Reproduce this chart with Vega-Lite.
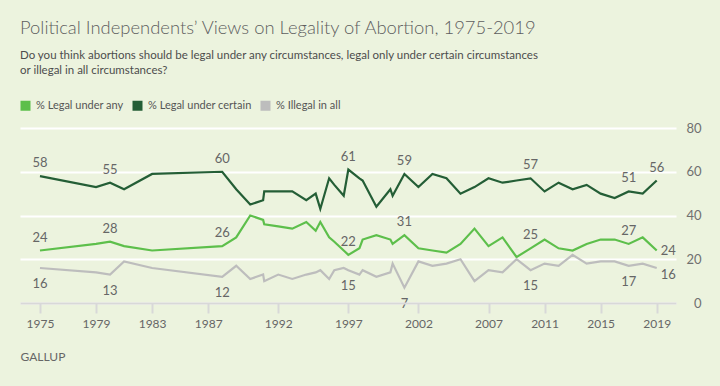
{
  "$schema": "https://vega.github.io/schema/vega-lite/v6.json",
  "autosize": "none",
  "width": 656,
  "height": 175,
  "padding": {"left": 20, "top": 128, "right": 44, "bottom": 83},
  "background": "#ecf3de",
  "config": {
    "font": "Lato, sans-serif",
    "view": {"stroke": null}
  },
  "title": {
    "text": "Political Independents’ Views on Legality of Abortion, 1975-2019",
    "subtitle": ["Do you think abortions should be legal under any circumstances, legal only under certain circumstances", "or illegal in all circumstances?"],
    "anchor": "start",
    "frame": "group",
    "offset": 23.5,
    "fontSize": 18.4,
    "fontWeight": 300,
    "color": "#5e5e5e",
    "subtitleFontSize": 11.5,
    "subtitleColor": "#4d4d4d",
    "subtitleLineHeight": 15.3,
    "subtitlePadding": 12
  },
  "data": {
    "values": [
      {"t": 1975, "any": 24, "certain": 58, "illegal": 16, "lab": true},
      {"t": 1979, "any": 27, "certain": 53, "illegal": 14, "lab": false},
      {"t": 1980, "any": 28, "certain": 55, "illegal": 13, "lab": true},
      {"t": 1981, "any": 26, "certain": 52, "illegal": 19, "lab": false},
      {"t": 1983, "any": 24, "certain": 59, "illegal": 16, "lab": false},
      {"t": 1988, "any": 26, "certain": 60, "illegal": 12, "lab": true},
      {"t": 1989, "any": 30, "certain": 52, "illegal": 17, "lab": false},
      {"t": 1990, "any": 40, "certain": 45, "illegal": 11, "lab": false},
      {"t": 1990.92, "any": 38, "certain": 47, "illegal": 13, "lab": false},
      {"t": 1991, "any": 36, "certain": 51, "illegal": 10, "lab": false},
      {"t": 1992, "any": 35, "certain": 51, "illegal": 13, "lab": false},
      {"t": 1993, "any": 34, "certain": 51, "illegal": 11, "lab": false},
      {"t": 1994, "any": 37, "certain": 47, "illegal": 13, "lab": false},
      {"t": 1994.67, "any": 33, "certain": 50, "illegal": 14, "lab": false},
      {"t": 1995, "any": 37, "certain": 43, "illegal": 15, "lab": false},
      {"t": 1995.63, "any": 30, "certain": 57, "illegal": 11, "lab": false},
      {"t": 1996, "any": 28, "certain": 54, "illegal": 15, "lab": false},
      {"t": 1996.67, "any": 24, "certain": 49, "illegal": 16, "lab": false},
      {"t": 1997, "any": 22, "certain": 61, "illegal": 15, "lab": true},
      {"t": 1997.79, "any": 25, "certain": 57, "illegal": 13, "lab": false},
      {"t": 1998.02, "any": 29, "certain": 56, "illegal": 15, "lab": false},
      {"t": 1999, "any": 31, "certain": 44, "illegal": 12, "lab": false},
      {"t": 2000, "any": 29, "certain": 52, "illegal": 14, "lab": false},
      {"t": 2000.16, "any": 27, "certain": 49, "illegal": 18, "lab": false},
      {"t": 2001, "any": 31, "certain": 59, "illegal": 7, "lab": true},
      {"t": 2002, "any": 25, "certain": 53, "illegal": 19, "lab": false},
      {"t": 2003, "any": 24, "certain": 59, "illegal": 17, "lab": false},
      {"t": 2004, "any": 23, "certain": 57, "illegal": 18, "lab": false},
      {"t": 2005, "any": 27, "certain": 50, "illegal": 20, "lab": false},
      {"t": 2006, "any": 34, "certain": 53, "illegal": 10, "lab": false},
      {"t": 2007, "any": 26, "certain": 57, "illegal": 15, "lab": false},
      {"t": 2008, "any": 30, "certain": 55, "illegal": 14, "lab": false},
      {"t": 2009, "any": 21, "certain": 56, "illegal": 20, "lab": false},
      {"t": 2010, "any": 25, "certain": 57, "illegal": 15, "lab": true},
      {"t": 2011, "any": 29, "certain": 51, "illegal": 18, "lab": false},
      {"t": 2012, "any": 25, "certain": 55, "illegal": 17, "lab": false},
      {"t": 2013, "any": 24, "certain": 52, "illegal": 22, "lab": false},
      {"t": 2014, "any": 27, "certain": 54, "illegal": 18, "lab": false},
      {"t": 2015, "any": 29, "certain": 50, "illegal": 19, "lab": false},
      {"t": 2016, "any": 29, "certain": 48, "illegal": 19, "lab": false},
      {"t": 2017, "any": 27, "certain": 51, "illegal": 17, "lab": true},
      {"t": 2018, "any": 30, "certain": 50, "illegal": 18, "lab": false},
      {"t": 2019, "any": 24, "certain": 56, "illegal": 16, "lab": true}
    ]
  },
  "transform": [
    {"fold": ["any", "certain", "illegal"], "as": ["series", "v"]}
  ],
  "encoding": {
    "x": {
      "field": "t",
      "type": "quantitative",
      "scale": {"domain": [1973.575, 2020.376], "nice": false, "zero": false},
      "axis": {
        "values": [1975, 1979, 1983, 1987, 1992, 1997, 2002, 2007, 2011, 2015, 2019],
        "format": "d",
        "grid": false,
        "domainColor": "#d8d8d8",
        "domainWidth": 2,
        "tickColor": "#d8d8d8",
        "tickWidth": 2,
        "tickSize": 10,
        "labelPadding": 5,
        "labelFontSize": 12,
        "labelColor": "#666666",
        "title": "GALLUP",
        "titleAnchor": "start",
        "titleAlign": "left",
        "titleX": 0,
        "titleY": 53,
        "titleBaseline": "middle",
        "titleFontSize": 12,
        "titleFontWeight": "normal",
        "titleColor": "#666666",
        "zindex": 1
      }
    },
    "y": {
      "field": "v",
      "type": "quantitative",
      "scale": {"domain": [0, 80], "nice": false},
      "axis": {
        "orient": "right",
        "values": [0, 20, 40, 60, 80],
        "domain": false,
        "ticks": false,
        "tickSize": 0,
        "labelAlign": "right",
        "labelPadding": 25,
        "labelFontSize": 13,
        "labelColor": "#707070",
        "gridColor": "#ffffff",
        "gridWidth": 2,
        "gridOpacity": 1,
        "title": null
      }
    }
  },
  "layer": [
    {
      "mark": {"type": "line", "strokeWidth": 2.2},
      "encoding": {
        "color": {
          "field": "series",
          "type": "nominal",
          "scale": {"domain": ["any", "certain", "illegal"], "range": ["#5dbf4b", "#245e36", "#bdbdbd"]},
          "legend": {
            "orient": "none",
            "legendX": 0,
            "legendY": -28,
            "direction": "horizontal",
            "columns": 3,
            "columnPadding": 8,
            "title": null,
            "symbolType": "square",
            "symbolSize": 100,
            "symbolOpacity": 1,
            "labelOffset": 5,
            "labelFontSize": 11,
            "labelColor": "#555555",
            "labelExpr": "datum.value == 'any' ? '% Legal under any' : datum.value == 'certain' ? '% Legal under certain' : '% Illegal in all'",
            "encode": {
              "symbols": {
                "update": {
                  "fill": {"scale": "color", "field": "value"},
                  "strokeWidth": {"value": 0}
                }
              }
            }
          }
        }
      }
    },
    {
      "transform": [{"filter": "datum.lab && (datum.series == 'certain' || (datum.series == 'any' && datum.t != 2019))"}],
      "mark": {"type": "text", "dy": -13, "fontSize": 13, "color": "#666666"},
      "encoding": {"text": {"field": "v", "type": "quantitative"}}
    },
    {
      "transform": [{"filter": "datum.lab && datum.series == 'illegal' && datum.t != 2019"}],
      "mark": {"type": "text", "dy": 16, "fontSize": 13, "color": "#666666"},
      "encoding": {"text": {"field": "v", "type": "quantitative"}}
    },
    {
      "transform": [{"filter": "datum.t == 2019 && datum.series == 'any'"}],
      "mark": {"type": "text", "dx": 4, "align": "left", "fontSize": 13, "color": "#666666"},
      "encoding": {"text": {"field": "v", "type": "quantitative"}}
    },
    {
      "transform": [{"filter": "datum.t == 2019 && datum.series == 'illegal'"}],
      "mark": {"type": "text", "dx": 4, "dy": 7, "align": "left", "fontSize": 13, "color": "#666666"},
      "encoding": {"text": {"field": "v", "type": "quantitative"}}
    }
  ]
}
